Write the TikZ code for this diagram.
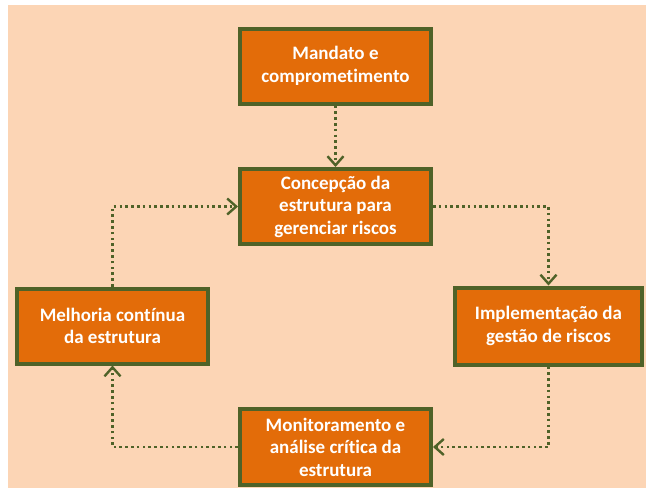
\documentclass[tikz,border=0pt]{standalone}
\usepackage{fontspec}
\setmainfont{Carlito}[Ligatures=NoCommon]
\usetikzlibrary{arrows.meta}
\definecolor{peach}{HTML}{FCD5B5}
\definecolor{boxfill}{HTML}{E36C09}
\definecolor{olive}{HTML}{4F6228}
\begin{document}
\begin{tikzpicture}[x=1pt,y=-1pt,
  stepbox/.style={draw=olive, line width=4pt, fill=boxfill, text=white,
    align=center, font=\fontsize{19}{22.5}\selectfont\bfseries,
    minimum width=191pt, minimum height=75pt, inner sep=1pt},
  flow/.style={draw=olive, line width=2.6pt, dash pattern=on 2.6pt off 3.2pt,
    -{Straight Barb[length=9pt,width=16pt,line width=2.4pt]}}]
\useasboundingbox (0,0) rectangle (646,488);
\fill[white] (0,0) rectangle (646,488);
\fill[peach] (8,5) rectangle (646,488);
\node[stepbox] (mand) at (335.5,66) {Mandato e\\comprometimento};
\node[stepbox] (conc) at (335.5,206.5) {Concepção da\\estrutura para\\gerenciar riscos};
\node[stepbox] (melh) at (112.5,326) {Melhoria contínua\\da estrutura};
\node[stepbox, minimum width=187pt, minimum height=77pt] (impl) at (548.5,326) {Implementação da\\gestão de riscos};
\node[stepbox, minimum height=76pt] (moni) at (335.5,447) {Monitoramento e\\análise crítica da\\estrutura};
\draw[flow] (mand.south) -- (conc.north);
\draw[flow] (conc.east) -| (impl.north);
\draw[flow] (impl.south) |- (moni.east);
\draw[flow] (moni.west) -| (melh.south);
\draw[flow] (melh.north) |- (conc.west);
\end{tikzpicture}
\end{document}
